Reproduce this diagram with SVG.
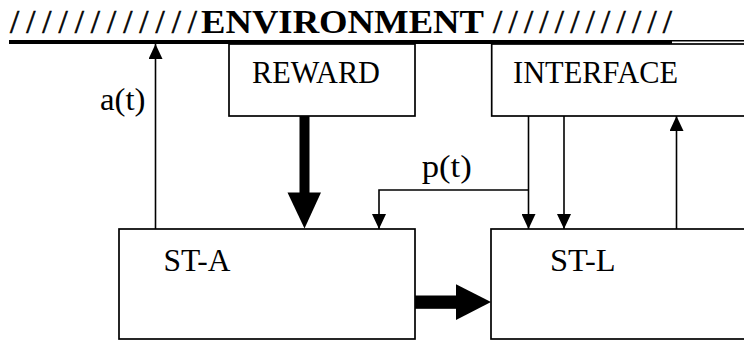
<svg xmlns="http://www.w3.org/2000/svg" width="744" height="340" viewBox="0 0 744 340">
  <style>
    .box { fill: #fff; stroke: #000; stroke-width: 1.7; }
    .lbl { font-family: "Liberation Serif", "Times New Roman", serif; font-size: 31px; fill: #000; }
    .hdr { font-family: "Liberation Serif", "Times New Roman", serif; font-size: 33px; font-weight: bold; fill: #000; }
    .hatch { font-family: "Liberation Serif", "Times New Roman", serif; font-size: 33px; fill: #000; stroke: #000; stroke-width: 0.6; }
    .wire { fill: none; stroke: #000; stroke-width: 1.6; }
    .fat { fill: #000; stroke: none; }
  </style>
  <defs>
    <marker id="head" viewBox="0 0 15 14" refX="15" refY="7" markerWidth="15" markerHeight="14" markerUnits="userSpaceOnUse" orient="auto">
      <path d="M0,0 L15,7 L0,14 Z" fill="#000"/>
    </marker>
  </defs>
  <rect width="744" height="340" fill="#fff"/>

  <!-- environment boundary -->
  <g id="environment">
    <text class="hatch" x="10" y="33.3" textLength="187" lengthAdjust="spacing">/ / / / / / / / / / / /</text>
    <text class="hdr" x="201" y="33.3" textLength="283" lengthAdjust="spacingAndGlyphs">ENVIRONMENT</text>
    <text class="hatch" x="493" y="33.3" textLength="179" lengthAdjust="spacing">/ / / / / / / / / / / /</text>
    <rect x="9" y="40" width="663" height="4" fill="#000"/>
    <line x1="672" y1="40.8" x2="744" y2="40.8" stroke="#000" stroke-width="1.6"/>
  </g>

  <g id="reward">
    <rect class="box" x="229" y="44" width="186" height="72"/>
    <text class="lbl" x="252" y="83.3" textLength="128" lengthAdjust="spacingAndGlyphs">REWARD</text>
  </g>

  <g id="interface">
    <rect class="box" x="491.7" y="44" width="270" height="72"/>
    <text class="lbl" x="513" y="83.3" textLength="165" lengthAdjust="spacingAndGlyphs">INTERFACE</text>
  </g>

  <g id="st-a">
    <rect class="box" x="119" y="229" width="296" height="110"/>
    <text class="lbl" x="163.5" y="270.7" textLength="67" lengthAdjust="spacingAndGlyphs">ST-A</text>
  </g>

  <g id="st-l">
    <rect class="box" x="491" y="229" width="270" height="110"/>
    <text class="lbl" x="550" y="270.7" textLength="65.5" lengthAdjust="spacingAndGlyphs">ST-L</text>
  </g>

  <g id="connectors">
    <!-- action a(t) -->
    <path class="wire" d="M155.5,229 V44" marker-end="url(#head)"/>
    <text class="lbl" x="100" y="110" textLength="45.5" lengthAdjust="spacingAndGlyphs">a(t)</text>
    <!-- reward signal -->
    <rect class="fat" x="299.5" y="116" width="10" height="77"/>
    <polygon class="fat" points="287.5,192.5 321,192.5 304.5,228.5"/>
    <!-- ST-A to ST-L -->
    <rect class="fat" x="415" y="295.5" width="41.5" height="13.3"/>
    <polygon class="fat" points="456,284.3 456,320 491,302"/>
    <!-- interface outputs -->
    <path class="wire" d="M528.5,116 V229" marker-end="url(#head)"/>
    <path class="wire" d="M528.5,190 H379 V229" marker-end="url(#head)"/>
    <text class="lbl" x="421.7" y="177" textLength="50" lengthAdjust="spacingAndGlyphs">p(t)</text>
    <path class="wire" d="M564,116 V229" marker-end="url(#head)"/>
    <!-- ST-L back to interface -->
    <path class="wire" d="M676.5,229 V116" marker-end="url(#head)"/>
  </g>
</svg>
